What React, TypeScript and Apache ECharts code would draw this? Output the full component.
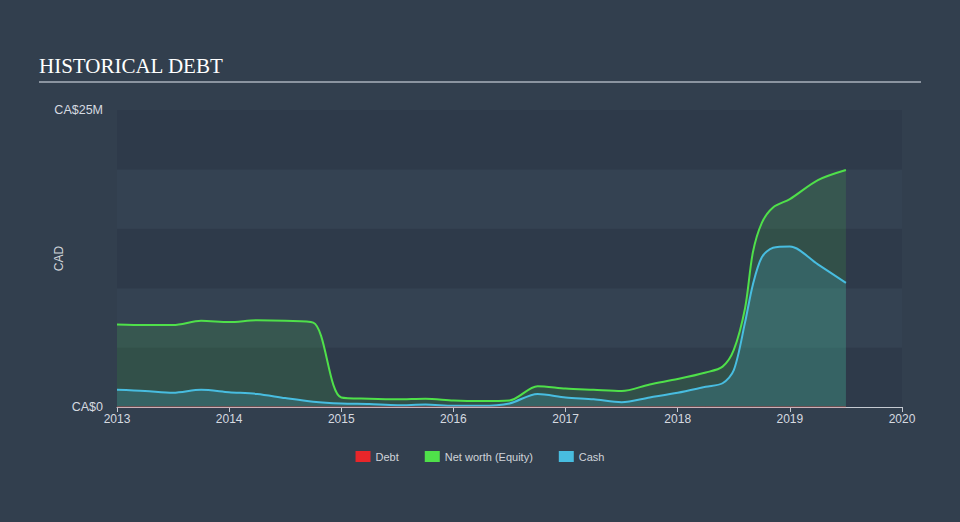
import React, { useEffect, useRef } from "react";
import * as echarts from "echarts";

const years = [2013.0, 2013.25, 2013.5, 2013.75, 2014.0, 2014.25, 2014.5, 2014.75, 2015.0, 2015.25, 2015.5, 2015.75, 2016.0, 2016.25, 2016.5, 2016.75, 2017.0, 2017.25, 2017.5, 2017.75, 2018.0, 2018.25, 2018.4, 2018.5, 2018.6, 2018.67, 2018.75, 2018.85, 2019.0, 2019.25, 2019.5];
const netWorth = [6.95, 6.9, 6.9, 7.25, 7.15, 7.3, 7.25, 7.1, 0.8, 0.7, 0.65, 0.7, 0.55, 0.5, 0.55, 1.75, 1.55, 1.45, 1.35, 1.9, 2.35, 2.9, 3.4, 4.8, 8.3, 13.0, 15.5, 16.8, 17.5, 19.1, 19.95];
const cash = [1.45, 1.35, 1.2, 1.45, 1.25, 1.1, 0.75, 0.45, 0.3, 0.25, 0.15, 0.2, 0.1, 0.1, 0.3, 1.1, 0.8, 0.65, 0.4, 0.8, 1.2, 1.7, 2.0, 3.1, 7.1, 10.3, 12.6, 13.4, 13.5, 12.0, 10.45];
const debt = [0, 0, 0, 0, 0, 0, 0, 0, 0, 0, 0, 0, 0, 0, 0, 0, 0, 0, 0, 0, 0, 0, 0, 0, 0, 0, 0, 0, 0, 0, 0];
const xTicks = [2013, 2014, 2015, 2016, 2017, 2018, 2019, 2020];
const yTickLabels: Record<number, string> = { 0: "CA$0", 25: "CA$25M" };

const BG = "#323f4e";

export default function App() {
  const ref = useRef<HTMLDivElement>(null);
  useEffect(() => {
    if (!ref.current) return;
    const chart = echarts.init(ref.current, null, { renderer: "svg" });
    const pairs = (arr: number[]) => years.map((y, i) => [y, arr[i]]);
    chart.setOption({
      animation: false,
      backgroundColor: BG,
      textStyle: { fontFamily: "Liberation Sans, Arial, sans-serif" },
      graphic: [
        {
          type: "text",
          left: 39,
          top: 55,
          style: {
            text: "HISTORICAL DEBT",
            fill: "#ffffff",
            font: "21px 'Liberation Serif', 'Times New Roman', serif",
          },
        },
        {
          type: "line",
          shape: { x1: 39, y1: 82, x2: 921, y2: 82 },
          style: { stroke: "#aab2bc", lineWidth: 1.5 },
        },
      ],
      grid: { left: 117, right: 58, top: 110, bottom: 115 },
      legend: {
        bottom: 55,
        left: "center",
        icon: "rect",
        itemWidth: 15,
        itemHeight: 11,
        itemGap: 26,
        textStyle: { color: "#d0d4da", fontSize: 11 },
        data: ["Debt", "Net worth (Equity)", "Cash"],
      },
      xAxis: {
        type: "value",
        min: 2013,
        max: 2020,
        interval: 1,
        axisLine: { lineStyle: { color: "#c4c9d1", width: 1 } },
        axisTick: { show: true, length: 5, lineStyle: { color: "#c4c9d1" } },
        axisLabel: { color: "#d6dae0", fontSize: 12, margin: 6, formatter: (v: number) => (xTicks.includes(v) ? String(v) : "") },
        splitLine: { show: false },
      },
      yAxis: {
        type: "value",
        min: 0,
        max: 25,
        interval: 5,
        name: "CAD",
        nameLocation: "middle",
        nameGap: 52,
        nameMoveOverlap: false,
        nameTextStyle: { color: "#d0d4da", fontSize: 12 },
        axisLine: { show: false },
        axisTick: { show: false },
        axisLabel: { color: "#d6dae0", fontSize: 12.5, margin: 14, formatter: (v: number) => yTickLabels[v] ?? "" },
        splitLine: { show: false },
        splitArea: { show: true, areaStyle: { color: ["#2e3a4a", "#344252"] } },
      },
      series: [
        {
          name: "Net worth (Equity)",
          type: "line",
          data: pairs(netWorth),
          smooth: 0.3,
          showSymbol: false,
          lineStyle: { color: "#4fe04a", width: 2 },
          itemStyle: { color: "#4fe04a" },
          areaStyle: { color: "rgba(76, 217, 74, 0.2)" },
          z: 2,
        },
        {
          name: "Cash",
          type: "line",
          data: pairs(cash),
          smooth: 0.3,
          showSymbol: false,
          lineStyle: { color: "#48bde0", width: 2 },
          itemStyle: { color: "#48bde0" },
          areaStyle: { color: "rgba(72, 190, 224, 0.25)" },
          z: 3,
        },
        {
          name: "Debt",
          type: "line",
          data: pairs(debt),
          showSymbol: false,
          lineStyle: { color: "#e8262a", width: 1, opacity: 0.6 },
          itemStyle: { color: "#e8262a" },
          z: 4,
        },
      ],
    });
    return () => chart.dispose();
  }, []);
  return <div ref={ref} style={{ width: 960, height: 522, position: "absolute", left: 0, top: 0 }} />;
}
